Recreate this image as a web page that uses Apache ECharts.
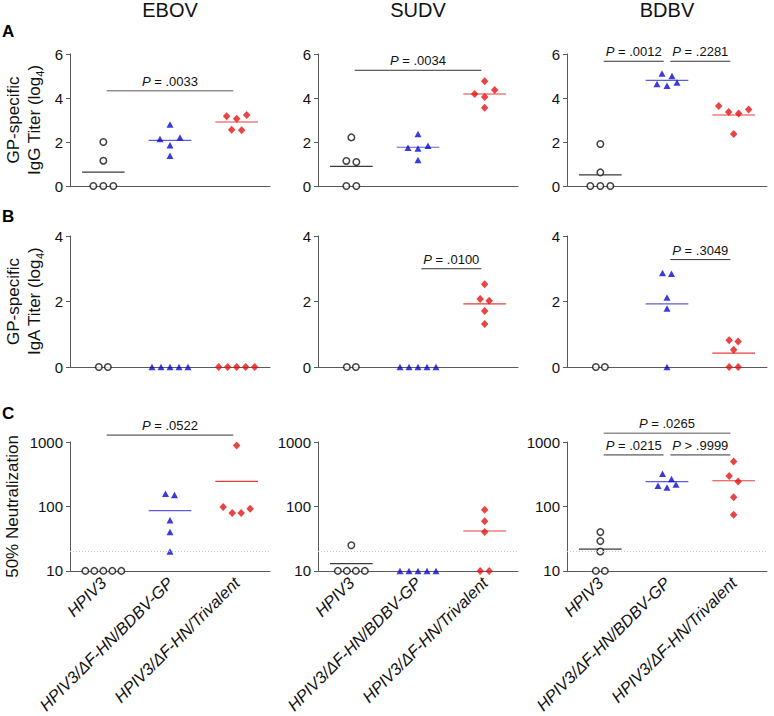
<!DOCTYPE html>
<html><head><meta charset="utf-8">
<script src="https://cdn.jsdelivr.net/npm/echarts@6/dist/echarts.min.js"></script>
<style>html,body{margin:0;padding:0;background:#fff}#c{width:774px;height:716px}</style>
</head><body><div id="c"></div>
<script>
// ---------------- data ----------------
const viruses = ['EBOV', 'SUDV', 'BDBV'];
const groups = ['HPIV3', 'HPIV3/ΔF-HN/BDBV-GP', 'HPIV3/ΔF-HN/Trivalent'];

// Panel A: GP-specific IgG titer (log4), per group [HPIV3, BDBV-GP, Trivalent]
const iggEBOV = [[2.0, 1.15, 0, 0, 0], [2.80, 2.14, 2.21, 1.85, 1.38], [3.23, 3.17, 3.06, 2.56, 2.53]];
const iggSUDV = [[2.21, 1.14, 1.09, 0, 0], [2.36, 1.74, 1.70, 1.83, 1.18], [4.76, 4.18, 4.05, 4.36, 3.56]];
const iggBDBV = [[1.91, 0.62, 0, 0, 0], [5.11, 5.00, 4.71, 4.64, 4.56], [3.64, 3.48, 3.36, 3.30, 2.36]];

// Panel B: GP-specific IgA titer (log4)
const igaEBOV = [[0, 0], [0, 0, 0, 0, 0], [0, 0, 0, 0, 0]];
const igaSUDV = [[0, 0], [0, 0, 0, 0, 0], [2.53, 2.08, 2.02, 1.71, 1.31]];
const igaBDBV = [[0, 0], [2.87, 2.85, 2.12, 1.79, 0], [0.82, 0.78, 0.53, 0, 0]];

// Panel C: 50% neutralization titer
const neutEBOV = [[10, 10, 10, 10, 10], [158, 151, 61, 40, 20], [879, 92, 79, 79, 98]];
const neutSUDV = [[25, 10, 10, 10, 10], [10, 10, 10, 10, 10], [89, 59, 40, 10, 10]];
const neutBDBV = [[40, 29, 20, 10, 10], [322, 267, 219, 197, 209], [500, 297, 243, 139, 74]];
const neutThreshold = 20;

// Significance brackets: [fromGroup, toGroup, yValue, text]
const brA_EBOV = [[0, 2, 4.33, '= .0033']];
const brA_SUDV = [[0, 2, 5.26, '= .0034']];
const brA_BDBV = [[0, 1, 5.67, '= .0012'], [1, 2, 5.67, '= .2281']];
const brB_EBOV = [];
const brB_SUDV = [[1, 2, 3.0, '= .0100']];
const brB_BDBV = [[1, 2, 3.28, '= .3049']];
const brC_EBOV = [[0, 2, 1280, '= .0522']];
const brC_SUDV = [];
const brC_BDBV = [[0, 2, 1370, '= .0265'], [0, 1, 630, '= .0215'], [1, 2, 630, '> .9999']];

const yTicksA = {min: 0, max: 6, interval: 2};
const yTicksB = {min: 0, max: 4, interval: 2};
const yTicksC = {min: 10, max: 1000};

// ---------------- layout & style ----------------
const FONT = "'Liberation Sans', Arial, Helvetica, sans-serif";
const colLeft = [70, 318, 567];
const colWidth = 200;
const axisColor = '#5a5a5a';
const mutedBrackets = {'A0-0': true, 'C2-0': true};
const rows = [
  {key: 'A', top: 54, height: 132, log: false, ticks: yTicksA, step: 10, letterY: 23,
   name: '{n|GP-specific}\n{n|IgG Titer (log}{s|4}{n|)}', nameGap: 25,
   data: [iggEBOV, iggSUDV, iggBDBV], br: [brA_EBOV, brA_SUDV, brA_BDBV]},
  {key: 'B', top: 236, height: 131, log: false, ticks: yTicksB, step: 9, letterY: 208,
   name: '{n|GP-specific}\n{n|IgA Titer (log}{s|4}{n|)}', nameGap: 25,
   data: [igaEBOV, igaSUDV, igaBDBV], br: [brB_EBOV, brB_SUDV, brB_BDBV]},
  {key: 'C', top: 442, height: 131, log: true, ticks: yTicksC, step: 9, letterY: 405,
   name: '{n|50% Neutralization}', nameGap: 47,
   data: [neutEBOV, neutSUDV, neutBDBV], br: [brC_EBOV, brC_SUDV, brC_BDBV]}
];
const markers = [
  {symbol: 'circle', symbolSize: 6.5, itemStyle: {color: '#fff', borderColor: '#111', borderWidth: 1.5}},
  {symbol: 'triangle', symbolSize: [7, 6.5], itemStyle: {color: '#0a0ad2'}},
  {symbol: 'diamond', symbolSize: [7.5, 8], itemStyle: {color: '#e31414'}}
];
const meanColors = ['#3a3a3a', '#5c5cd8', '#e83c3c'];

// Beeswarm-style horizontal spreading of points that share a row
function swarm(values, tf, pxPerUnit, stepPx, rowPx) {
  const idx = values.map((v, i) => i).sort((a, b) => values[b] - values[a]);
  const offs = new Array(values.length).fill(0);
  let i = 0;
  while (i < idx.length) {
    const top = tf(values[idx[i]]) * pxPerUnit;
    let j = i + 1;
    while (j < idx.length && top - tf(values[idx[j]]) * pxPerUnit < rowPx) j++;
    const row = idx.slice(i, j).sort((a, b) => values[a] - values[b]);
    const n = row.length;
    row.forEach((k, r) => {
      let slot;
      if (n % 2 === 1) slot = r === 0 ? 0 : (r % 2 === 1 ? -Math.ceil(r / 2) : Math.ceil(r / 2));
      else { const m = Math.floor(r / 2) + 0.5; slot = r % 2 === 0 ? m : -m; }
      offs[k] = slot * stepPx;
    });
    i = j;
  }
  return offs;
}

const grid = [], xAxis = [], yAxis = [], series = [], title = [], graphic = [];
viruses.forEach((v, c) => {
  title.push({text: v, left: colLeft[c] + colWidth / 2, top: 0, padding: 0, textAlign: 'center',
    textStyle: {fontSize: 20, lineHeight: 20, fontWeight: 'normal', color: '#111', fontFamily: FONT}});
});

rows.forEach((row, r) => {
  graphic.push({type: 'text', left: 2, top: row.letterY,
    style: {text: row.key, font: 'bold 17px ' + FONT, fill: '#000'}});
  const tf = row.log ? (x => Math.log10(x)) : (x => x);
  const range = tf(row.ticks.max) - tf(row.ticks.min);
  const pxPerUnit = row.height / range;
  viruses.forEach((v, c) => {
    const g = grid.length;
    grid.push({left: colLeft[c], top: row.top, width: colWidth, height: row.height});
    xAxis.push({gridIndex: g, type: 'category', data: groups, position: 'bottom', boundaryGap: true,
      axisTick: {show: false}, axisLine: {onZero: false, lineStyle: {color: axisColor, width: 1}},
      splitLine: {show: false},
      axisLabel: {show: r === 2, interval: 0, rotate: 45, fontStyle: 'italic', fontSize: 16.5,
        color: '#111', fontFamily: FONT, margin: 9}});
    xAxis.push({gridIndex: g, type: 'value', min: -0.5, max: 2.5, show: false, position: 'bottom'});
    const ya = {gridIndex: g, type: row.log ? 'log' : 'value', min: row.ticks.min, max: row.ticks.max,
      axisLine: {show: true, onZero: false, lineStyle: {color: axisColor, width: 1}},
      axisTick: {show: true, length: 4, lineStyle: {color: axisColor}},
      axisLabel: {fontSize: 15, color: '#111', fontFamily: FONT, margin: 7, formatter: val => String(val)},
      splitLine: {show: false}, minorTick: {show: false}};
    if (row.log) ya.logBase = 10; else ya.interval = row.ticks.interval;
    if (c === 0) {
      Object.assign(ya, {name: row.name, nameLocation: 'middle', nameRotate: 90, nameGap: row.nameGap,
        nameTextStyle: {color: '#111', fontFamily: FONT, fontSize: 17, lineHeight: 21,
          rich: {n: {fontSize: 17, lineHeight: 21, fontFamily: FONT, color: '#111'},
                 s: {fontSize: 11, lineHeight: 9, verticalAlign: 'bottom', fontFamily: FONT, color: '#111'}}}});
    }
    yAxis.push(ya);

    const unitPx = colWidth / 3;
    const groupData = row.data[c];
    // mean lines
    const means = [];
    groupData.forEach((vals, k) => {
      const m = vals.reduce((a, b) => a + b, 0) / vals.length;
      if (m > row.ticks.min + 1e-9) means.push([k, m]);
    });
    series.push({type: 'custom', coordinateSystem: 'cartesian2d', xAxisIndex: 2 * g + 1, yAxisIndex: g,
      data: means, clip: false, silent: true, z: 2,
      renderItem: (params, api) => {
        const k = api.value(0), m = api.value(1);
        const p1 = api.coord([k - 0.32, m]), p2 = api.coord([k + 0.32, m]);
        return {type: 'line', shape: {x1: p1[0], y1: p1[1], x2: p2[0], y2: p2[1]},
          style: {stroke: meanColors[k], lineWidth: 1.2}};
      }});
    // points
    groupData.forEach((vals, k) => {
      const offs = swarm(vals, tf, pxPerUnit, row.step, 8);
      const s = Object.assign({type: 'scatter', xAxisIndex: 2 * g + 1, yAxisIndex: g,
        data: vals.map((val, i) => [k + offs[i] / unitPx, val]), clip: false, silent: true, z: 3}, markers[k]);
      if (row.log && k === 0) {
        s.markLine = {silent: true, symbol: 'none', label: {show: false}, animation: false,
          lineStyle: {type: [1, 2], color: '#c4c4c4', width: 1}, data: [{yAxis: neutThreshold}]};
      }
      series.push(s);
    });
    // brackets
    const br = row.br[c];
    if (br.length) {
      series.push({type: 'custom', coordinateSystem: 'cartesian2d', xAxisIndex: 2 * g + 1, yAxisIndex: g,
        data: br.map(b => [b[0], b[2], b[1]]), clip: false, silent: true, z: 4,
        renderItem: (params, api) => {
          const b = br[params.dataIndex];
          const muted = mutedBrackets[row.key + c + '-' + params.dataIndex];
          const p1 = api.coord([b[0] + 0.05, b[2]]), p2 = api.coord([b[1] - 0.05, b[2]]);
          return {type: 'group', children: [
            {type: 'line', shape: {x1: p1[0], y1: p1[1], x2: p2[0], y2: p1[1]},
              style: {stroke: muted ? '#8f8f8f' : '#333', lineWidth: muted ? 1.6 : 1}},
            {type: 'text', x: (p1[0] + p2[0]) / 2, y: p1[1] - 3,
              style: {text: '{i|P} ' + b[3], fill: '#111', fontSize: 13, fontFamily: FONT,
                align: 'center', verticalAlign: 'bottom',
                rich: {i: {fontStyle: 'italic', fontSize: 13, fontFamily: FONT, fill: '#111'}}}}
          ]};
        }});
    }
  });
});

const chart = echarts.init(document.getElementById('c'), null, {renderer: 'svg', width: 774, height: 716});
chart.setOption({animation: false, backgroundColor: '#fff', title, graphic, grid, xAxis, yAxis, series});
</script>
</body></html>
